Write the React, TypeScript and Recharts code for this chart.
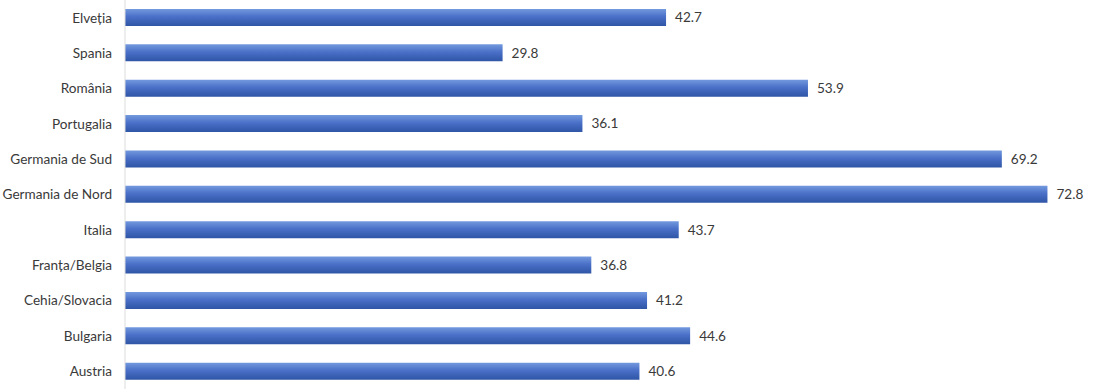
import React from 'react';
import { BarChart, Bar, XAxis, YAxis, LabelList } from 'recharts';

const regions = [
  'Elveția',
  'Spania',
  'România',
  'Portugalia',
  'Germania de Sud',
  'Germania de Nord',
  'Italia',
  'Franța/Belgia',
  'Cehia/Slovacia',
  'Bulgaria',
  'Austria',
];
const values = [42.7, 29.8, 53.9, 36.1, 69.2, 72.8, 43.7, 36.8, 41.2, 44.6, 40.6];

const data = regions.map((name, i) => ({ name, value: values[i] }));

const font = 'Lato, "Noto Sans", sans-serif';

export default function App() {
  return (
    <div style={{ position: 'absolute', left: 0, top: 0, width: 1094, height: 389, background: '#fff' }}>
      <BarChart
        width={1094}
        height={389}
        data={data}
        layout="vertical"
        margin={{ top: 0, right: 6, bottom: 0, left: 0 }}
      >
        <defs>
          <linearGradient id="barFill" x1="0" y1="0" x2="0" y2="1">
            <stop offset="0%" stopColor="#7399de" />
            <stop offset="45%" stopColor="#4a70c8" />
            <stop offset="100%" stopColor="#2f55a6" />
          </linearGradient>
        </defs>
        <XAxis type="number" domain={[0, 76]} hide />
        <YAxis
          type="category"
          dataKey="name"
          width={125}
          axisLine={{ stroke: '#dcdcdc' }}
          tickLine={false}
          tickMargin={7}
          tick={{ fill: '#3a3a3a', fontSize: 13.6, fontFamily: font }}
          interval={0}
        />
        <Bar dataKey="value" fill="url(#barFill)" barSize={17} isAnimationActive={false}>
          <LabelList
            dataKey="value"
            position="right"
            offset={9}
            formatter={(v: number) => v.toFixed(1)}
            style={{ fill: '#3a3a3a', fontSize: 13.6, fontFamily: font }}
          />
        </Bar>
      </BarChart>
    </div>
  );
}
